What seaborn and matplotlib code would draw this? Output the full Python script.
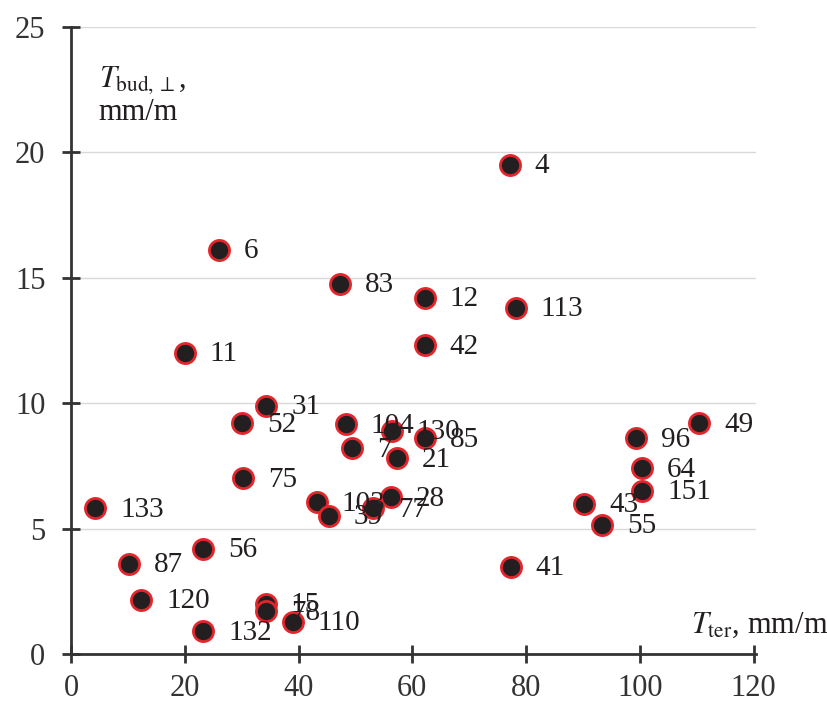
import matplotlib
matplotlib.use("Agg")
import matplotlib.pyplot as plt
import seaborn as sns
import pandas as pd

# 데이터
ids = ["4", "6", "83", "12", "113", "42", "11", "31", "52", "104", "130", "85",
       "7", "21", "75", "103", "39", "77", "28", "133", "56", "87", "120", "132",
       "15", "78", "110", "41", "43", "55", "96", "64", "151", "49"]
t_ter = [77.1, 26.0, 47.3, 62.2, 78.2, 62.2, 20.0, 34.3, 30.1, 48.3, 56.4, 62.2,
         49.4, 57.3, 30.2, 43.2, 45.3, 53.1, 56.2, 4.2, 23.2, 10.2, 12.3, 23.2,
         34.2, 34.2, 39.0, 77.3, 90.2, 93.3, 99.3, 100.4, 100.4, 110.4]
t_bud = [19.5, 16.1, 14.75, 14.2, 13.8, 12.3, 12.0, 9.9, 9.2, 9.15, 8.9, 8.6,
         8.2, 7.8, 7.0, 6.05, 5.5, 5.8, 6.25, 5.8, 4.2, 3.6, 2.15, 0.9,
         2.0, 1.7, 1.28, 3.47, 5.98, 5.14, 8.6, 7.4, 6.5, 9.2]

df = pd.DataFrame({"id": ids, "t_ter": t_ter, "t_bud": t_bud})

sns.set_style("white")
plt.rcParams["font.family"] = ["Liberation Serif", "DejaVu Serif"]
plt.rcParams["mathtext.fontset"] = "stix"

fig = plt.figure(figsize=(8.27, 7.04), dpi=100)
ax = fig.add_axes([0.086, 0.071, 0.828, 0.891])

ax.grid(True, axis="y", color="#d9d9d9", linewidth=1)
ax.set_axisbelow(True)

sns.scatterplot(data=df, x="t_ter", y="t_bud", ax=ax, s=210,
                color="#231f20", edgecolor="#e3262c", linewidth=2, zorder=3)

# 점 번호 표시
for _, r in df.iterrows():
    ax.annotate(r["id"], (r["t_ter"], r["t_bud"]), xytext=(18, -1),
                textcoords="offset points", ha="left", va="center",
                fontsize=21, color="#231f20", zorder=4)

ax.set_xlim(0, 120.4)
ax.set_ylim(0, 25)
ax.set_xticks(range(0, 121, 20))
ax.set_yticks(range(0, 26, 5))

for side in ["top", "right"]:
    ax.spines[side].set_visible(False)
for side in ["left", "bottom"]:
    ax.spines[side].set_color("#333333")
    ax.spines[side].set_linewidth(2)
ax.tick_params(bottom=True, left=True, direction="inout", length=13, width=2,
               color="#333333", labelsize=22, labelcolor="#333333")
ax.tick_params(axis="y", pad=12)
ax.tick_params(axis="x", pad=8)

ax.set_xlabel("")
ax.set_ylabel("")
ax.text(0.04, 0.915, r"$T_{\mathrm{bud},\perp}$,", transform=ax.transAxes,
        fontsize=22, color="#231f20", ha="left", va="center")
ax.text(0.04, 0.864, "mm/m", transform=ax.transAxes,
        fontsize=22, color="#231f20", ha="left", va="center")
ax.text(1.105, 0.045, r"$T_{\mathrm{ter}}$, mm/m", transform=ax.transAxes,
        fontsize=22, color="#231f20", ha="right", va="center")

fig.savefig("out.png", dpi=100)
